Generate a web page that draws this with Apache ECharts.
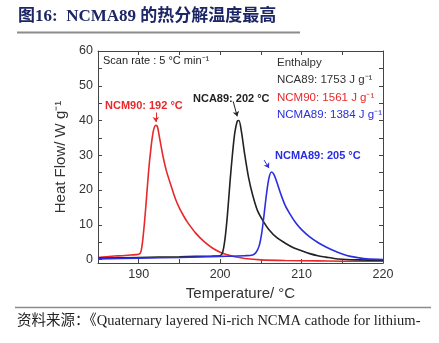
<!DOCTYPE html>
<html><head><meta charset="utf-8">
<script src="https://cdn.jsdelivr.net/npm/echarts@6/dist/echarts.min.js"></script>
<style>html,body{margin:0;padding:0;background:#fff}#c{width:439px;height:343px}</style>
</head><body><div id="c"></div>
<script>
// Data
const xTickLabels = [190, 200, 210, 220];
const yTickLabels = [0, 10, 20, 30, 40, 50, 60];

const ncm90X = [185, 186, 187, 188, 189, 190, 190.3, 190.6, 190.9, 191.2, 191.5, 191.8, 192.1, 192.3, 192.6, 193.0, 193.4, 194.0, 194.5, 195.0, 195.5, 196, 197, 198, 199, 200, 201, 202, 203, 205, 208, 212, 216, 220];
const ncm90Y = [0.6, 0.8, 1.0, 1.1, 1.3, 1.5, 2.5, 8, 16, 25, 32, 37, 38.6, 38.2, 34.5, 29.5, 25.5, 21, 17.5, 14.8, 12.6, 10.7, 7.6, 5.2, 3.4, 2.1, 1.3, 0.7, 0.3, -0.1, -0.3, -0.4, -0.5, -0.5];

const nca89X = [185, 190, 195, 199, 200, 200.3, 200.6, 200.9, 201.2, 201.5, 201.8, 202.1, 202.3, 202.6, 203.0, 203.5, 204.0, 204.6, 205.3, 206, 207, 208, 209, 210, 211, 212, 213, 214, 215, 217, 220];
const nca89Y = [0.4, 0.6, 0.8, 1.0, 1.1, 2, 6, 13, 22, 30, 36.5, 39.8, 40, 37, 30.5, 23.5, 18.5, 14, 11, 8.6, 6.2, 4.7, 3.4, 2.5, 1.7, 1.1, 0.7, 0.3, 0.1, -0.1, -0.2];

const ncma89X = [185, 190, 195, 200, 203, 204, 204.4, 204.8, 205.1, 205.4, 205.7, 206.0, 206.3, 206.6, 207.0, 207.5, 208.0, 208.6, 209.3, 210, 211, 212, 213, 214, 215, 216, 217, 218, 220];
const ncma89Y = [0.2, 0.4, 0.6, 0.9, 1.1, 1.3, 2, 4, 7.5, 13, 19, 23.5, 25.2, 24.5, 22, 18.5, 15.5, 13, 10.5, 8.6, 6.5, 4.9, 3.6, 2.5, 1.6, 0.9, 0.5, 0.2, 0.0];

const peaks = { ncm90: [192.1, 38.6], nca89: [202.3, 40], ncma89: [206.3, 25.2] };

const zip = (xs, ys) => xs.map((x, i) => [x, ys[i]]);
const chart = echarts.init(document.getElementById('c'));
const sans = 'Liberation Sans, Arial, sans-serif';
const serif = 'Liberation Serif, "Noto Sans CJK SC", serif';
const axisCol = '#444';

function arrowLine(from, to, color) {
  return {
    silent: true, symbol: ['none', 'arrow'], symbolSize: 5, animation: false,
    lineStyle: { color: color, width: 1, type: 'solid' }, label: { show: false },
    data: [[{ coord: from }, { coord: to }]]
  };
}

chart.setOption({
  animation: false,
  grid: { left: 98, top: 51, right: 56, bottom: 80 },
  xAxis: [{
    type: 'value', min: 185, max: 220, position: 'bottom',
    name: 'Temperature/ °C', nameLocation: 'middle', nameGap: 18,
    nameTextStyle: { fontFamily: sans, fontSize: 15, color: '#333' },
    axisLine: { onZero: false, lineStyle: { color: axisCol, width: 1 } },
    axisTick: { inside: true, length: 4, lineStyle: { color: axisCol }, customValues: [190, 195, 200, 205, 210, 215] },
    axisLabel: { customValues: xTickLabels, fontFamily: sans, fontSize: 12.5, color: '#333', margin: 5 },
    splitLine: { show: false }
  }, {
    type: 'value', min: 185, max: 220, position: 'top',
    axisLine: { onZero: false, lineStyle: { color: axisCol, width: 1 } },
    axisTick: { inside: true, length: 4, lineStyle: { color: axisCol }, customValues: [190, 195, 200, 205, 210, 215] },
    axisLabel: { show: false }, splitLine: { show: false }
  }],
  yAxis: [{
    type: 'value', min: -1, max: 60, position: 'left',
    name: 'Heat Flow/ W g⁻¹', nameLocation: 'middle', nameGap: 23, nameRotate: 90,
    nameTextStyle: { fontFamily: sans, fontSize: 15, color: '#333' },
    axisLine: { show: true, onZero: false, lineStyle: { color: axisCol, width: 1 } },
    axisTick: { show: true, inside: true, length: 4, lineStyle: { color: axisCol }, customValues: [0, 5, 10, 15, 20, 25, 30, 35, 40, 45, 50, 55] },
    axisLabel: { customValues: yTickLabels, fontFamily: sans, fontSize: 12.5, color: '#333', margin: 5 },
    splitLine: { show: false }
  }, {
    type: 'value', min: -1, max: 60, position: 'right',
    axisLine: { show: true, onZero: false, lineStyle: { color: axisCol, width: 1 } },
    axisTick: { show: true, inside: true, length: 4, lineStyle: { color: axisCol }, customValues: [5, 10, 15, 20, 25, 30, 35, 40, 45, 50, 55] },
    axisLabel: { show: false }, splitLine: { show: false }
  }],
  series: [
    { name: 'NCM90', type: 'line', data: zip(ncm90X, ncm90Y), smooth: 0.3, showSymbol: false,
      lineStyle: { color: '#e8282b', width: 1.6 }, z: 3,
      markLine: arrowLine([peaks.ncm90[0], 42.3], [peaks.ncm90[0], 39.6], '#e8282b') },
    { name: 'NCA89', type: 'line', data: zip(nca89X, nca89Y), smooth: 0.3, showSymbol: false,
      lineStyle: { color: '#222222', width: 1.6 }, z: 4,
      markLine: arrowLine([201.6, 45.5], [202.1, 41.2], '#222222') },
    { name: 'NCMA89', type: 'line', data: zip(ncma89X, ncma89Y), smooth: 0.3, showSymbol: false,
      lineStyle: { color: '#2a2ee0', width: 1.6 }, z: 5,
      markLine: arrowLine([205.4, 28.6], [206.0, 26.3], '#2a2ee0') }
  ],
  graphic: [
    { type: 'text', left: 18, top: 8, style: { text: '图16:  NCMA89 的热分解温度最高', font: 'bold 17px ' + serif, fill: '#1c2565' } },
    { type: 'line', shape: { x1: 17, y1: 32.5, x2: 300, y2: 32.5 }, style: { stroke: '#8c8c8c', lineWidth: 2 } },
    { type: 'line', shape: { x1: 15, y1: 307.5, x2: 431, y2: 307.5 }, style: { stroke: '#8c8c8c', lineWidth: 1.5 } },
    { type: 'text', left: 17, top: 314, style: { text: '资料来源：《Quaternary layered Ni-rich NCMA cathode for lithium-', font: '14.5px ' + serif, fill: '#222' } },
    { type: 'text', left: 103, top: 55, style: { text: 'Scan rate : 5 °C min⁻¹', font: '11px ' + sans, fill: '#222' } },
    { type: 'text', left: 277, top: 57, style: { text: 'Enthalpy', font: '11.5px ' + sans, fill: '#333' } },
    { type: 'text', left: 277, top: 74, style: { text: 'NCA89: 1753 J g⁻¹', font: '11.5px ' + sans, fill: '#333' } },
    { type: 'text', left: 277, top: 92, style: { text: 'NCM90: 1561 J g⁻¹', font: '11.5px ' + sans, fill: '#e8282b' } },
    { type: 'text', left: 277, top: 109, style: { text: 'NCMA89: 1384 J g⁻¹', font: '11.5px ' + sans, fill: '#2a2ee0' } },
    { type: 'text', left: 105, top: 100, style: { text: 'NCM90: 192 °C', font: 'bold 11px ' + sans, fill: '#e8282b' } },
    { type: 'text', left: 193, top: 93, style: { text: 'NCA89: 202 °C', font: 'bold 11px ' + sans, fill: '#222' } },
    { type: 'text', left: 275, top: 150, style: { text: 'NCMA89: 205 °C', font: 'bold 11px ' + sans, fill: '#2a2ee0' } }
  ]
});
</script></body></html>
